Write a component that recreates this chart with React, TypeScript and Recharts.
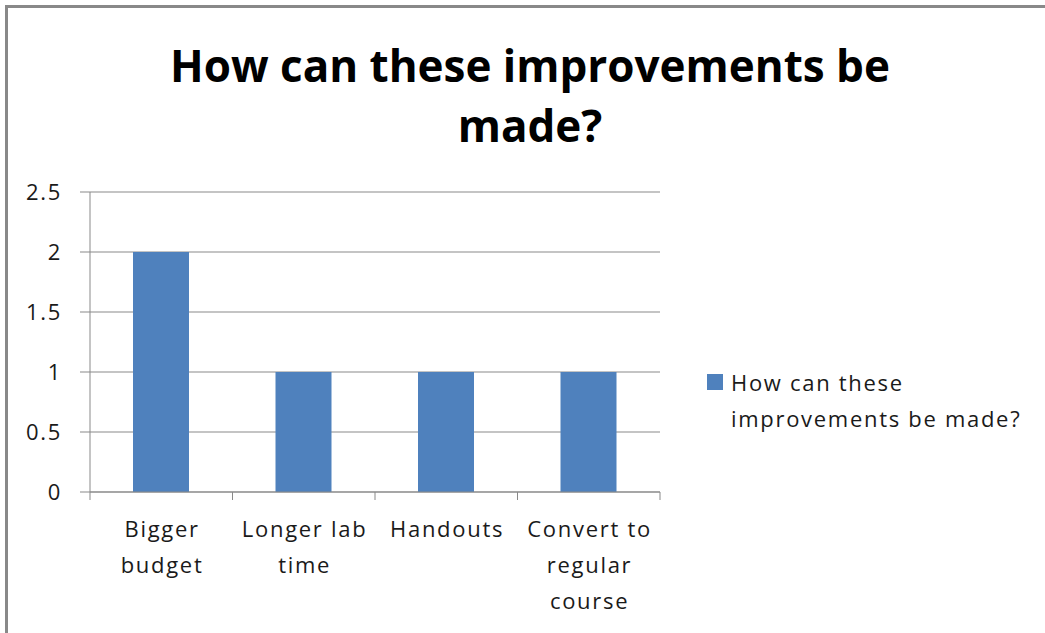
import { BarChart, Bar, XAxis, YAxis, CartesianGrid } from 'recharts'

const categories = ['Bigger budget', 'Longer lab time', 'Handouts', 'Convert to regular course']
const xTickLines = [['Bigger', 'budget'], ['Longer lab', 'time'], ['Handouts'], ['Convert to', 'regular', 'course']]
const values = [2, 1, 1, 1]
const yTicks = [0, 0.5, 1, 1.5, 2, 2.5]
const seriesName = 'How can these improvements be made?'

const data = categories.map((name, i) => ({ name, value: values[i] }))

const FONT = '"Open Sans", Lato, sans-serif'
const GRAY = '#898989'
const BLUE = '#4F81BD'
const BAND = 142.5
const SPACING = 1.7

function CategoryTick({ x, y, index }: any) {
  const lines = xTickLines[index] || []
  const last = index === categories.length - 1
  return (
    <g>
      <line x1={x - BAND / 2} x2={x - BAND / 2} y1={y} y2={y + 8} stroke={GRAY} />
      {last && <line x1={x + BAND / 2} x2={x + BAND / 2} y1={y} y2={y + 8} stroke={GRAY} />}
      {lines.map((l, i) => (
        <text
          key={i}
          x={x + SPACING / 2}
          y={y + 45 + i * 36}
          textAnchor="middle"
          fontSize={22}
          fontFamily={FONT}
          letterSpacing={SPACING}
          fill="#1a1a1a"
        >
          {l}
        </text>
      ))}
    </g>
  )
}

export default function App() {
  return (
    <div style={{ position: 'absolute', left: 0, top: 0, width: 1045, height: 633, overflow: 'hidden', background: '#fff', fontFamily: FONT }}>
      <div style={{ position: 'absolute', left: 5, top: 5, width: 1200, height: 800, border: `3px solid ${GRAY}`, boxSizing: 'border-box' }} />
      <div style={{ position: 'absolute', left: 0, top: 35, width: 1060, textAlign: 'center', fontSize: 44, fontWeight: 700, lineHeight: '60px', color: '#000' }}>
        How can these improvements be
        <br />
        made?
      </div>
      <BarChart width={1045} height={633} data={data} margin={{ top: 192, right: 385, bottom: 0, left: 0 }}>
        <CartesianGrid vertical={false} stroke={GRAY} />
        <XAxis
          dataKey="name"
          height={141}
          tickSize={0}
          tickMargin={0}
          axisLine={{ stroke: GRAY }}
          tickLine={false}
          tick={<CategoryTick />}
          interval={0}
        />
        <YAxis
          width={90}
          domain={[0, 2.5]}
          ticks={yTicks}
          tickSize={10}
          tickMargin={18}
          axisLine={{ stroke: GRAY }}
          tickLine={{ stroke: GRAY }}
          tick={{ fill: '#1a1a1a', fontSize: 22, fontFamily: FONT, letterSpacing: SPACING }}
        />
        <Bar dataKey="value" name={seriesName} fill={BLUE} barSize={56} isAnimationActive={false} />
      </BarChart>
      <div style={{ position: 'absolute', left: 707, top: 374, width: 16, height: 16, background: BLUE }} />
      <div style={{ position: 'absolute', left: 731, top: 364, fontSize: 22, lineHeight: '36px', letterSpacing: SPACING, color: '#1a1a1a' }}>
        How can these
        <br />
        improvements be made?
      </div>
    </div>
  )
}
